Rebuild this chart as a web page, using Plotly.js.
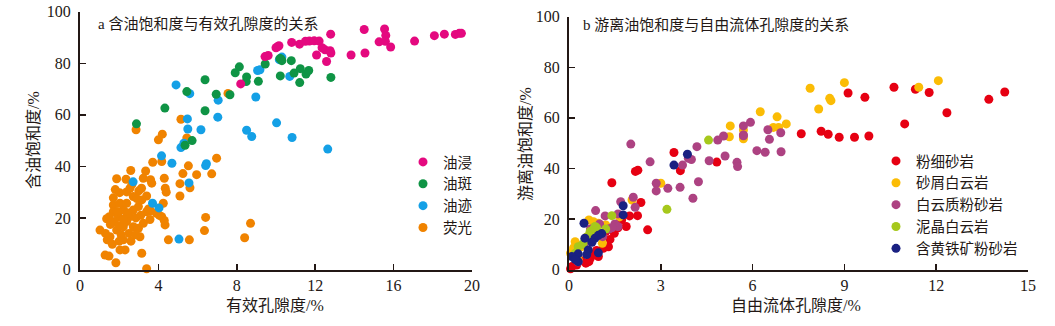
<!DOCTYPE html>
<html><head><meta charset="utf-8">
<script src="https://cdn.plot.ly/plotly-3.0.1.min.js"></script>
<style>html,body{margin:0;padding:0;background:#fff}#chart{width:1055px;height:326px}</style>
</head><body><div id="chart"></div><script>
// ---------- Panel a data ----------
const aNames = ['油浸', '油斑', '油迹', '荧光'];
const youjinX = [8.2,9.44,9.6,10.0,10.15,10.8,11.2,11.7,11.95,12.2,12.07,12.5,12.76,12.8,12.58,12.79,13.83,14.54,14.5,15.54,15.6,15.26,15.58,15.85,17.07,18.08,18.59,19.15,19.35,19.46,11.5,12.35,10.1];
const youjinY = [72.0,82.6,83.0,86.0,86.8,88.1,87.4,88.6,88.7,88.6,83.2,85.2,84.9,84.0,80.7,91.3,83.2,84.0,93.1,93.3,90.8,88.3,88.5,86.3,88.6,90.7,91.3,91.2,91.6,91.6,88.5,86.0,86.5];
const youbanX = [2.88,4.33,5.45,6.38,6.38,5.36,5.72,6.95,7.65,7.92,8.13,8.5,8.48,9.1,9.45,10.25,10.3,10.78,10.22,10.92,11.24,11.21,11.53,11.67,12.8,10.2];
const youbanY = [56.5,62.6,69.0,73.6,61.6,48.2,50.0,68.0,67.8,76.3,78.6,74.7,72.9,73.0,79.7,81.7,81.0,81.0,75.1,76.2,77.9,72.5,75.8,77.2,74.5,81.8];
const youjiX = [2.71,4.16,4.69,3.70,4.03,5.05,5.56,5.15,5.48,5.5,5.6,4.9,6.17,6.41,6.45,7.05,7.03,8.5,8.76,8.97,9.06,10.03,10.82,12.64,9.18,10.3,10.7,10.17,5.3];
const youjiY = [34.0,44.1,41.2,25.7,23.9,11.8,33.6,47.3,58.4,54.5,68.2,71.6,54.2,40.3,41.0,65.7,59.1,54.0,51.6,66.9,77.2,56.9,51.2,46.7,77.5,82.4,74.9,81.4,49.0];
const yingguangX = [2.86,4.0,4.2,5.15,5.45,7.55,6.97,6.72,5.95,5.53,5.25,5.61,5.1,5.1,4.3,4.35,4.4,4.25,3.71,4.17,3.35,3.6,3.66,3.23,2.59,1.87,2.35,3.14,3.0,3.4,3.6,3.9,4.17,3.57,4.34,4.51,5.58,6.41,6.35,8.4,8.7,3.4,3.15,3.06,1.83,1.28,1.48,1.02,1.36,1.7,2.02,2.38,1.7,1.7,1.53,1.39,1.87,2.21,2.3,2.04,3.23,3.4,2.98,3.15,2.72,2.72,2.55,2.38,2.21,2.72,2.98,1.96,2.21,2.04,2.38,2.85,1.55,1.75,2.1,2.5,1.3,1.65,2.0,2.6,2.4,1.9,2.9,2.55,3.1,1.5,2.2,2.85,4.3,4.05,2.65,3.5,2.0,1.8];
const yingguangY = [54.2,50.3,52.5,58.3,51.0,68.3,43.2,37.1,36.8,40.2,37.2,31.7,33.3,28.5,35.4,31.5,30.0,25.7,41.6,41.9,38.2,34.8,33.5,35.4,38.4,35.2,35.0,31.5,30.5,28.5,22.8,21.8,20.5,19.4,17.3,11.5,11.5,20.2,15.1,12.3,17.9,0.3,6.3,12.7,2.6,5.6,5.2,15.3,19.7,27.8,29.8,30.1,25.0,22.4,12.7,11.5,15.3,11.5,7.6,7.6,17.9,22.4,24.4,27.0,28.3,23.1,20.5,18.6,16.6,16.6,16.0,20.5,23.1,25.7,25.7,20.0,17.5,18.5,13.5,14.0,14.0,9.8,17.0,11.0,22.0,22.5,27.5,31.5,21.0,20.5,19.5,13.5,19.0,21.0,33.0,23.5,11.0,31.0];

// ---------- Panel b data ----------
const bNames = ['粉细砂岩', '砂屑白云岩', '白云质粉砂岩', '泥晶白云岩', '含黄铁矿粉砂岩'];
const fenxiX = [10.62,11.32,11.77,10.97,12.35,13.72,14.24,9.12,9.67,7.59,8.24,8.47,8.83,9.33,9.8,1.4,2.17,2.25,3.43,3.64,4.83,2.57,2.35,2.24,1.98,1.87,1.72,1.48,1.34,1.12,0.96,0.65,0.05,0.1,0.25,1.29,0.8,0.55,1.05,1.6,0.9,0.4,1.2,0.7];
const fenxiY = [72.1,71.3,70.0,57.6,62.0,67.3,70.2,69.8,68.1,53.7,54.7,53.5,52.3,52.3,52.8,34.3,38.8,39.3,46.3,39.1,42.5,15.7,26.5,21.3,21.2,17.0,19.6,14.3,11.9,8.4,5.1,3.1,0.3,1.2,1.8,9.0,6.0,2.5,13.5,16.5,7.5,3.5,15.0,4.5];
const shaxieX = [7.88,9.0,8.52,8.56,8.16,11.43,12.07,6.25,6.8,7.1,6.68,6.85,5.27,5.24,5.7,5.7,3.0,2.06,1.65,0.65,0.8,0.2,0.05,1.05,1.09,0.96,1.2,0.4,0.6,0.3,0.15];
const shaxieY = [71.7,73.9,67.7,66.8,63.5,72.1,74.7,62.4,60.4,57.6,56.2,56.2,56.8,52.5,55.2,51.7,34.1,27.5,20.8,19.6,18.9,11.0,6.5,14.3,10.4,18.3,17.6,9.0,13.0,4.0,8.5];
const baiyunX = [2.02,2.65,2.85,2.85,3.23,3.63,4.23,4.05,4.18,3.71,3.9,4.0,4.58,5.1,4.86,5.05,5.49,5.51,5.7,5.7,5.93,6.14,6.41,6.5,6.55,6.92,6.93,5.7,2.1,2.16,1.69,0.87,1.18,1.5,1.6,1.3,0.8,0.6,0.5,1.1,0.2,0.3,1.0,1.4,0.7,1.6];
const baiyunY = [49.6,42.6,34.1,31.1,32.1,32.5,34.7,28.2,48.6,41.3,44.0,43.5,43.0,44.9,51.2,52.8,42.4,40.7,53.2,56.8,58.2,47.0,46.4,55.3,51.5,54.1,46.6,52.9,28.6,24.6,26.8,23.3,21.2,18.0,17.0,16.0,15.0,12.0,10.0,13.0,5.0,3.0,18.0,16.5,16.0,22.0];
const nijingX = [4.56,3.2,1.4,0.8,0.69,0.9,0.3,0.2,0.52,1.0,0.6,0.85,1.2,0.45,0.75];
const nijingY = [51.2,23.8,21.3,15.9,15.0,16.5,9.0,6.4,11.7,14.0,13.0,17.0,16.0,10.0,14.5];
const huangtieX = [3.87,3.43,1.77,1.77,0.49,1.07,0.85,0.52,0.75,0.96,0.63,0.3,0.09,0.3,0.58,0.96,0.2];
const huangtieY = [45.6,41.3,25.2,21.6,18.3,14.2,12.4,12.4,10.8,6.6,7.7,6.2,5.1,3.1,5.9,13.5,4.0];

// ---------- styles ----------
const W = 1055, H = 326;
const cjk = '"Liberation Serif", "Noto Sans CJK SC"';
const ink = '#231815';
const px = v => v / W, py = v => 1 - v / H;

function pts(x, y, name, color, xa, ya, leg) {
  return {type: 'scatter', mode: 'markers', x: x, y: y, name: name,
    xaxis: xa, yaxis: ya, legend: leg, cliponaxis: false,
    marker: {size: 9, color: color, line: {width: 0}}};
}
const data = [
  pts(yingguangX, yingguangY, aNames[3], '#f08300', 'x', 'y', 'legend'),
  pts(youjiX, youjiY, aNames[2], '#14a0e6', 'x', 'y', 'legend'),
  pts(youbanX, youbanY, aNames[1], '#0f9445', 'x', 'y', 'legend'),
  pts(youjinX, youjinY, aNames[0], '#e4097f', 'x', 'y', 'legend'),
  pts(fenxiX, fenxiY, bNames[0], '#e60012', 'x2', 'y2', 'legend2'),
  pts(shaxieX, shaxieY, bNames[1], '#fbbc05', 'x2', 'y2', 'legend2'),
  pts(baiyunX, baiyunY, bNames[2], '#ad4282', 'x2', 'y2', 'legend2'),
  pts(nijingX, nijingY, bNames[3], '#a6c81c', 'x2', 'y2', 'legend2'),
  pts(huangtieX, huangtieY, bNames[4], '#1a2182', 'x2', 'y2', 'legend2')
];

const axBase = {showline: true, linewidth: 2, linecolor: ink, ticks: 'inside', ticklen: 6,
  tickwidth: 1.5, tickcolor: ink, showgrid: false, zeroline: false, mirror: false,
  tickfont: {family: '"Liberation Serif"', size: 16, color: ink}, fixedrange: true};

const layout = {
  width: W, height: H, margin: {l: 0, r: 0, t: 0, b: 0},
  paper_bgcolor: '#fff', plot_bgcolor: '#fff',
  xaxis: Object.assign({}, axBase, {domain: [px(80), px(472)], range: [0, 20], dtick: 4, anchor: 'y'}),
  yaxis: Object.assign({}, axBase, {domain: [py(269.5), py(11.7)], range: [0, 100], dtick: 20, anchor: 'x', ticklabelstandoff: 4}),
  xaxis2: Object.assign({}, axBase, {domain: [px(569), px(1028)], range: [0, 15], dtick: 3, anchor: 'y2'}),
  yaxis2: Object.assign({}, axBase, {domain: [py(269.5), py(16.7)], range: [0, 100], dtick: 20, anchor: 'x2', ticklabelstandoff: 4}),
  showlegend: true,
  legend: {x: px(403), y: py(146), xanchor: 'left', yanchor: 'top', traceorder: 'reversed',
    bgcolor: 'rgba(0,0,0,0)', font: {family: cjk, size: 14.5, color: ink}, itemclick: false},
  legend2: {x: px(876), y: py(145), xanchor: 'left', yanchor: 'top', traceorder: 'normal',
    bgcolor: 'rgba(0,0,0,0)', font: {family: cjk, size: 14.5, color: ink}, itemclick: false},
  annotations: [
    {text: 'a 含油饱和度与有效孔隙度的关系', xref: 'paper', yref: 'paper', x: px(96), y: py(23.5),
     xanchor: 'left', yanchor: 'middle', showarrow: false, font: {family: cjk, size: 15, color: ink}},
    {text: 'b 游离油饱和度与自由流体孔隙度的关系', xref: 'paper', yref: 'paper', x: px(581), y: py(25),
     xanchor: 'left', yanchor: 'middle', showarrow: false, font: {family: cjk, size: 15, color: ink}},
    {text: '有效孔隙度/%', xref: 'paper', yref: 'paper', x: px(275), y: py(305),
     xanchor: 'center', yanchor: 'middle', showarrow: false, font: {family: cjk, size: 16, color: ink}},
    {text: '自由流体孔隙度/%', xref: 'paper', yref: 'paper', x: px(796), y: py(305),
     xanchor: 'center', yanchor: 'middle', showarrow: false, font: {family: cjk, size: 16, color: ink}},
    {text: '含油饱和度/%', xref: 'paper', yref: 'paper', x: px(33), y: py(140), textangle: -90,
     xanchor: 'center', yanchor: 'middle', showarrow: false, font: {family: cjk, size: 16, color: ink}},
    {text: '游离油饱和度/%', xref: 'paper', yref: 'paper', x: px(525), y: py(144), textangle: -90,
     xanchor: 'center', yanchor: 'middle', showarrow: false, font: {family: cjk, size: 16, color: ink}}
  ]
};

Plotly.newPlot('chart', data, layout, {displayModeBar: false, staticPlot: true});
</script></body></html>
